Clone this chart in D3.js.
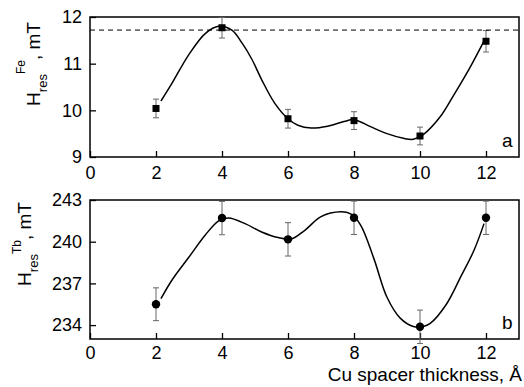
<!DOCTYPE html>
<html>
<head>
<meta charset="utf-8">
<script src="https://cdn.jsdelivr.net/npm/d3@7"></script>
<style>
  body { margin: 0; background: #fff; }
  text { font-family: "Liberation Sans", Arial, sans-serif; fill: #000; }
</style>
</head>
<body>
<div id="container"></div>
<script>
const w = 524;
const h = 387;

// Cu spacer thickness, Å
const thickness = [2, 4, 6, 8, 10, 12];
// Fe resonance field (mT) and error
const feValues = [10.04, 11.77, 9.82, 9.78, 9.45, 11.48];
const feErrors = [0.2, 0.22, 0.2, 0.19, 0.19, 0.23];
const feReference = 11.72;
// Tb resonance field (mT) and error
const tbValues = [235.5, 241.7, 240.17, 241.72, 233.88, 241.72];
const tbErrors = [1.18, 1.2, 1.2, 1.2, 1.2, 1.2];

// fitted guide curves
const feCurveX = [2.15, 2.5, 3, 3.5, 3.9, 4.3, 4.6, 4.9, 5.2, 5.6, 6, 6.3, 6.7, 7.2, 7.7, 8, 8.5, 9, 9.5, 9.8, 10.1, 10.6, 11, 11.5, 11.95];
const feCurveY = [10.2, 10.6, 11.2, 11.65, 11.8, 11.72, 11.45, 11.1, 10.66, 10.15, 9.82, 9.68, 9.62, 9.66, 9.76, 9.8, 9.65, 9.5, 9.4, 9.38, 9.48, 9.85, 10.3, 10.9, 11.5];
const tbCurveX = [2.15, 2.5, 3, 3.5, 3.9, 4.2, 4.7, 5.2, 5.7, 6.1, 6.5, 7, 7.6, 7.9, 8.2, 8.6, 9, 9.4, 9.8, 10.1, 10.3, 10.8, 11.24, 11.64, 11.94];
const tbCurveY = [235.9, 237.3, 238.9, 240.5, 241.5, 241.7, 241.3, 240.7, 240.3, 240.2, 240.8, 241.8, 242.15, 242.0, 241.2, 238.8, 236.0, 234.5, 233.9, 233.9, 234.1, 235.5, 237.5, 239.4, 241.3];

const xTicks = [0, 2, 4, 6, 8, 10, 12];
const feTicks = [9, 10, 11, 12];
const tbTicks = [234, 237, 240, 243];

const svg = d3.select("#container").append("svg")
  .attr("width", w).attr("height", h);

const x = d3.scaleLinear().domain([0, 13]).range([90, 519]);
const yFe = d3.scaleLinear().domain([9, 12]).range([157, 17]);
const yTb = d3.scaleLinear().domain([233, 243]).range([339, 200]);
const fmt = d3.format("d");

function panel(y, ticks, values, errors, cx, cy, symbol, letter, pad) {
  const g = svg.append("g");
  const [y0, y1] = y.range();

  const xAxis = d3.axisBottom(x).tickValues(xTicks).tickFormat(fmt)
    .tickSizeInner(-6).tickSizeOuter(0).tickPadding(pad);
  g.append("g").attr("transform", "translate(0," + y0 + ")").call(xAxis);
  const yAxis = d3.axisLeft(y).tickValues(ticks).tickFormat(fmt)
    .tickSizeInner(-6).tickSizeOuter(0).tickPadding(8);
  g.append("g").attr("transform", "translate(" + x.range()[0] + ",0)").call(yAxis);
  g.selectAll(".domain").remove();
  g.selectAll(".tick line").attr("stroke", "#000").attr("stroke-width", 1.3);
  g.selectAll(".tick text").style("font-size", "18px").attr("fill", "#000");

  g.append("rect")
    .attr("x", x.range()[0]).attr("y", y1)
    .attr("width", x.range()[1] - x.range()[0]).attr("height", y0 - y1)
    .attr("fill", "none").attr("stroke", "#000").attr("stroke-width", 1.5);

  const line = d3.line().x((d) => x(d[0])).y((d) => y(d[1])).curve(d3.curveCatmullRom);
  g.append("path")
    .datum(cx.map((v, i) => [v, cy[i]]))
    .attr("d", line)
    .attr("fill", "none").attr("stroke", "#000").attr("stroke-width", 1.5);

  const pts = thickness.map((t, i) => ({ t: t, v: values[i], e: errors[i] }));
  const eb = g.selectAll(".err").data(pts).enter().append("g").attr("stroke", "#666").attr("stroke-width", 1);
  eb.append("line").attr("x1", (d) => x(d.t)).attr("x2", (d) => x(d.t))
    .attr("y1", (d) => y(d.v - d.e)).attr("y2", (d) => y(d.v + d.e));
  eb.append("line").attr("x1", (d) => x(d.t) - 3).attr("x2", (d) => x(d.t) + 3)
    .attr("y1", (d) => y(d.v + d.e)).attr("y2", (d) => y(d.v + d.e));
  eb.append("line").attr("x1", (d) => x(d.t) - 3).attr("x2", (d) => x(d.t) + 3)
    .attr("y1", (d) => y(d.v - d.e)).attr("y2", (d) => y(d.v - d.e));

  if (symbol === "square") {
    g.selectAll(".pt").data(pts).enter().append("rect")
      .attr("x", (d) => x(d.t) - 3.5).attr("y", (d) => y(d.v) - 3.5)
      .attr("width", 7).attr("height", 7).attr("fill", "#000");
  } else {
    g.selectAll(".pt").data(pts).enter().append("circle")
      .attr("cx", (d) => x(d.t)).attr("cy", (d) => y(d.v))
      .attr("r", 4.2).attr("fill", "#000");
  }

  g.append("text").attr("x", 502).attr("y", y0 - 10)
    .style("font-size", "19px").text(letter);
  return g;
}

const topPanel = panel(yFe, feTicks, feValues, feErrors, feCurveX, feCurveY, "square", "a", 9);
topPanel.append("line")
  .attr("x1", x.range()[0]).attr("x2", x.range()[1])
  .attr("y1", yFe(feReference)).attr("y2", yFe(feReference))
  .attr("stroke", "#000").attr("stroke-width", 1).attr("stroke-dasharray", "5,4");

panel(yTb, tbTicks, tbValues, tbErrors, tbCurveX, tbCurveY, "circle", "b", 7);

function yTitle(cx, cy, sup, raise) {
  const t = svg.append("text")
    .attr("transform", "translate(" + cx + "," + cy + ") rotate(-90)")
    .attr("text-anchor", "middle")
    .style("font-size", "19px");
  t.append("tspan").text("H");
  t.append("tspan").attr("dy", 7).style("font-size", "13px").text("res");
  t.append("tspan").attr("dy", -7 - raise).style("font-size", "12px").text(sup);
  t.append("tspan").attr("dy", raise).text(", mT");
}
yTitle(40, 64, "Fe", 15);
yTitle(31, 244, "Tb", 10);

svg.append("text")
  .attr("x", 522).attr("y", 381)
  .attr("text-anchor", "end")
  .style("font-size", "19px")
  .text("Cu spacer thickness, Å");
</script>
</body>
</html>
